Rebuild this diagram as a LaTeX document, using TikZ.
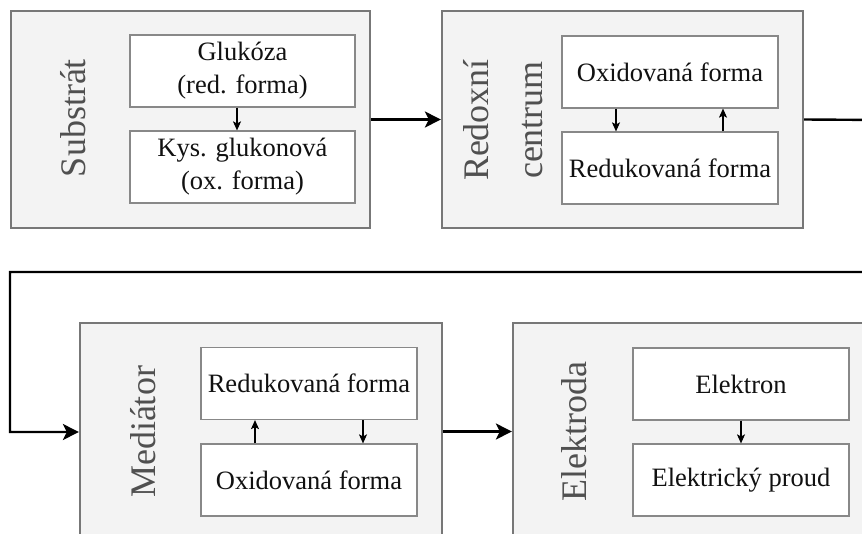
\documentclass[tikz,border=0pt]{standalone}
\usepackage{fontspec}
\setmainfont{Liberation Serif}
\usetikzlibrary{arrows.meta}
\definecolor{outerfill}{HTML}{F3F3F3}
\definecolor{outerdraw}{HTML}{777777}
\definecolor{innerdraw}{HTML}{888888}
\definecolor{labelcol}{HTML}{505050}
\definecolor{textcol}{HTML}{111111}
\tikzset{
  outerbox/.style={draw=outerdraw, line width=2.2pt, fill=outerfill, minimum width=360pt, minimum height=217pt, inner sep=0pt},
  innerbox/.style={draw=innerdraw, line width=1.2pt, fill=white, minimum width=216pt, minimum height=72pt, inner sep=0pt, align=center, text=textcol, font=\fontsize{26.5}{33}\selectfont},
  sidelabel/.style={rotate=90, text=labelcol, align=center, inner sep=0pt, font=\fontsize{36}{54}\selectfont},
  mainarrow/.style={line width=2.4pt, -{Stealth[length=16pt, width=16pt, inset=4pt]}},
  smallarrow/.style={line width=1.1pt, -{Stealth[length=9pt, width=8pt, inset=2pt]}}
}
\begin{document}
\begin{tikzpicture}[x=1pt, y=-1pt]
\useasboundingbox (0,0) rectangle (862,533);
\clip (0,0) rectangle (862,533);
% outer boxes
\node[outerbox, minimum width=359pt] (sub) at (190.5,119.5) {};
\node[outerbox, minimum width=361pt] (red) at (622.5,119.5) {};
\node[outerbox, minimum width=362pt] (med) at (261,431.5) {};
\node[outerbox, minimum width=361pt] (ele) at (693.5,431.5) {};
% side labels
\node[sidelabel] (subL) at (73,118) {Substrát};
\node[sidelabel] (redL) at (503,120) {Redoxní\\centrum};
\node[sidelabel] (medL) at (143,432) {Mediátor};
\node[sidelabel] (eleL) at (574,432) {Elektroda};
% inner boxes
\node[innerbox, minimum width=225pt] (glu) at (242.5,71) {Glukóza\\(red. forma)};
\node[innerbox, minimum width=225pt] (kys) at (242.5,167) {Kys. glukonová\\(ox. forma)};
\node[innerbox] (rox) at (670,72) {Oxidovaná forma};
\node[innerbox] (rred) at (670,168) {Redukovaná forma};
\node[innerbox] (mred) at (309,383.5) {Redukovaná forma};
\node[innerbox] (mox) at (309,480) {Oxidovaná forma};
\node[innerbox] (elek) at (741,384) {Elektron};
\node[innerbox] (prou) at (741,480) {Elektrický proud};
% inner arrows
\draw[smallarrow] ([xshift=-5.5pt]glu.south) -- ([xshift=-5.5pt]kys.north);
\draw[smallarrow] ([xshift=-54pt]rox.south) -- ([xshift=-54pt]rred.north);
\draw[smallarrow] ([xshift=53pt]rred.north) -- ([xshift=53pt]rox.south);
\draw[smallarrow] ([xshift=-54pt]mox.north) -- ([xshift=-54pt]mred.south);
\draw[smallarrow] ([xshift=54pt]mred.south) -- ([xshift=54pt]mox.north);
\draw[smallarrow] (elek.south) -- (prou.north);
% main connectors
\coordinate (turnA) at (885,120);
\coordinate (turnB) at (885,272);
\coordinate (turnC) at (10,272);
\coordinate (turnD) at (10,432);
\draw[mainarrow] (sub.east) -- (red.west);
\draw[mainarrow] (red.east) -- (turnA) -- (turnB) -- (turnC) -- (turnD) -- (turnD -| med.west);
\draw[mainarrow] (med.east) -- (ele.west);
\end{tikzpicture}
\end{document}
